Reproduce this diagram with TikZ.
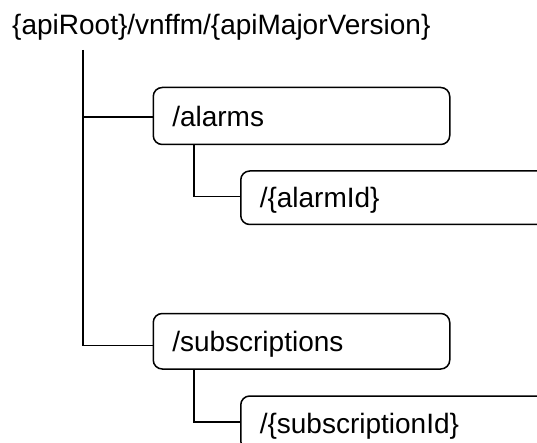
\documentclass[tikz,border=0pt]{standalone}
\usepackage{fontspec}
\setmainfont{Liberation Sans}
\begin{document}
\begin{tikzpicture}[x=1pt,y=-1pt,
  box/.style={draw=black, line width=1.5pt, rounded corners=9pt, anchor=west,
    align=left, inner xsep=19pt, inner ysep=0pt, text height=20.4pt, text depth=0pt,
    font=\fontsize{28}{33}\selectfont},
  link/.style={draw=black, line width=1.5pt}]
\useasboundingbox (0,0) rectangle (537,443);
\clip (0,0) rectangle (537,443);
\node[anchor=base west, inner sep=0pt, font=\fontsize{28}{33}\selectfont] (root) at (12,35) {\{apiRoot\}/vnffm/\{apiMajorVersion\}};
\coordinate (trunk) at (83,50);
\node[box, text width=258.5pt, minimum height=57pt] (alarms) at (152.5,116) {/alarms};
\node[box, text width=300pt, minimum height=53.5pt] (alarmid) at (240,197.75) {/\{alarmId\}};
\node[box, text width=258.5pt, minimum height=55.5pt] (subs) at (152.5,341.25) {/subscriptions};
\node[box, text width=300pt, minimum height=54pt] (subsid) at (240,423) {/\{subscriptionId\}};
\draw[link] (trunk) |- ([yshift=-4pt]subs.west);
\draw[link] (trunk |- alarms.west) ++(0,1) -- ([yshift=-1pt]alarms.west);
\draw[link] ([xshift=41.5pt]alarms.south west) |- ([yshift=1pt]alarmid.west);
\draw[link] ([xshift=41.5pt]subs.south west) |- ([yshift=1pt]subsid.west);
\end{tikzpicture}
\end{document}
